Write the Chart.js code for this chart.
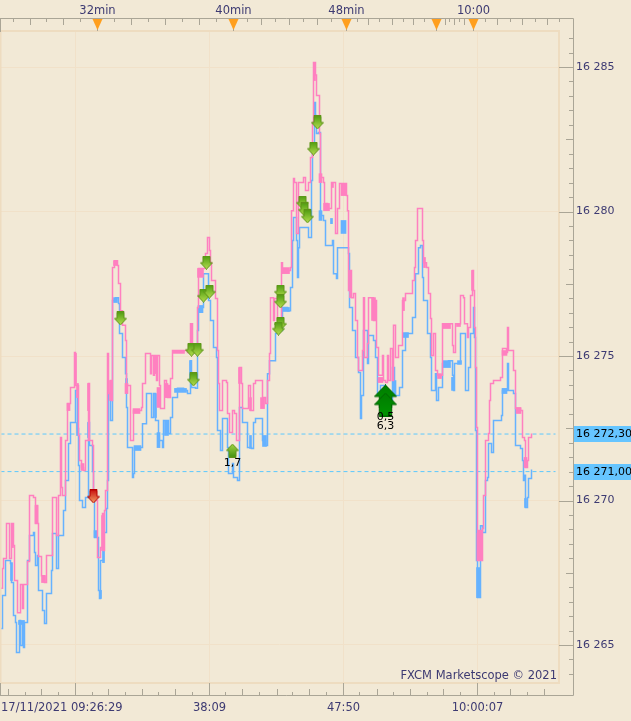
<!DOCTYPE html>
<html>
<head>
<meta charset="utf-8">
<title>FXCM Marketscope</title>
<script src="https://cdn.jsdelivr.net/npm/chart.js@4"></script>
<style>
    html, body { margin: 0; padding: 0; background: #f2e9d6; overflow: hidden; }
    canvas { display: block; }
</style>
</head>
<body>
<canvas id="chart" width="631" height="721"></canvas>
<script>
/* ------------------------------------------------------------
   DATA (x = bar position, y = price)
------------------------------------------------------------ */
const askBars = [0,2,3,6,9,11,13,14,17,20,22,23,27,29,33,35,36,37,38,41,44,46,52,56,58,60,61,62,65,67,70,74,75,78,79,81,83,85,88,89,92,93,97,100,102,103,104,105,107,108,110,111,112,114,117,118,120,122,125,126,130,133,141,142,145,150,151,153,154,156,157,159,160,164,166,167,168,169,170,172,187,190,192,197,198,205,207,209,210,211,215,217,218,219,222,226,227,229,232,234,236,239,241,242,248,250,253,255,262,263,265,267,269,270,273,274,277,281,282,290,291,293,294,296,298,303,305,308,310,312,313,315,316,319,320,323,324,327,331,333,335,337,339,346,347,348,350,351,353,355,357,358,362,363,364,367,368,373,375,376,378,382,383,385,387,388,390,392,393,395,398,402,405,412,414,415,417,422,423,426,428,430,431,433,435,437,442,452,453,455,460,463,464,467,468,470,472,473,474,475,476,477,478,479,480,481,482,483,485,488,489,490,493,500,502,506,507,508,513,515,520,522,524,525,527,528,531];
const askPrices = [16266.96,16267.65,16267.99,16269.20,16267.99,16269.20,16268.44,16267.23,16266.12,16267.09,16266.26,16267.09,16267.89,16270.17,16270.10,16269.20,16269.83,16269.20,16268.06,16267.40,16267.16,16268.10,16270.10,16268.79,16270.17,16272.18,16270.45,16270.17,16272.08,16273.36,16273.91,16275.12,16273.98,16272.25,16271.38,16271.14,16271.04,16272.08,16274.05,16272.08,16271.90,16270.00,16268.03,16268.37,16269.55,16268.27,16269.65,16270.35,16275.09,16273.70,16274.15,16273.46,16278.06,16278.30,16278.13,16277.51,16276.57,16276.06,16275.54,16273.98,16272.08,16273.11,16273.22,16274.05,16275.09,16274.39,16275.02,16274.33,16275.02,16274.15,16275.02,16273.98,16273.18,16274.15,16273.98,16273.56,16273.98,16273.56,16274.22,16275.19,16275.12,16276.12,16275.19,16276.68,16278.03,16278.55,16279.10,16278.65,16278.23,16277.61,16276.99,16275.19,16274.05,16273.11,16274.15,16274.08,16273.01,16272.35,16273.11,16273.01,16272.08,16274.60,16274.05,16273.18,16273.98,16273.11,16274.05,16274.15,16273.22,16273.56,16273.36,16274.15,16275.09,16277.02,16276.23,16276.99,16276.23,16278.23,16277.96,16278.06,16280.03,16281.14,16281.00,16279.24,16281.00,16281.18,16280.73,16281.00,16281.87,16283.08,16285.16,16284.72,16284.01,16282.70,16281.18,16281.00,16280.28,16280.10,16281.00,16281.00,16279.24,16280.10,16280.97,16280.55,16280.03,16277.27,16277.96,16277.02,16277.16,16276.23,16274.95,16274.50,16275.19,16277.02,16274.95,16275.43,16277.02,16276.23,16276.92,16275.29,16274.33,16275.02,16274.15,16274.08,16275.02,16274.15,16275.26,16274.15,16276.06,16274.95,16275.36,16276.92,16277.16,16277.61,16278.06,16279.00,16280.10,16279.00,16278.23,16278.06,16277.16,16276.30,16275.02,16275.78,16274.50,16274.33,16276.12,16275.36,16275.12,16276.12,16277.09,16277.02,16276.12,16275.64,16275.99,16277.09,16277.96,16277.27,16275.99,16274.60,16272.53,16267.92,16268.96,16267.92,16268.96,16267.92,16269.03,16270.17,16272.08,16272.32,16273.46,16274.05,16274.15,16274.26,16275.26,16275.12,16275.99,16275.19,16274.50,16273.18,16273.11,16272.18,16272.08,16271.14,16271.38,16272.18,16272.32];

const bidBars = [0,2,5,10,11,13,15,16,19,20,22,23,24,27,29,33,34,35,37,38,42,44,46,51,52,56,58,63,65,68,70,75,77,78,79,82,85,88,89,92,93,94,98,99,100,103,106,107,108,110,112,115,118,119,122,125,126,127,132,133,134,142,146,151,153,155,158,162,163,168,170,172,177,183,187,190,191,195,197,198,203,208,210,213,216,217,220,222,227,228,232,233,237,239,242,247,251,253,255,262,265,267,269,275,278,282,287,290,292,293,296,297,298,299,308,311,312,314,315,316,318,320,323,325,332,333,336,337,348,349,352,355,358,360,361,363,367,368,373,375,377,380,385,392,394,399,402,405,412,415,418,420,422,423,427,430,431,435,436,438,442,448,452,453,454,460,465,468,470,473,474,475,476,477,480,482,485,487,488,491,493,501,502,507,508,513,515,520,522,523,524,525,527,528,531];
const bidPrices = [16265.57,16266.71,16267.92,16267.82,16267.16,16266.02,16265.78,16264.74,16265.85,16264.98,16265.78,16264.91,16265.78,16267.92,16268.79,16268.89,16268.20,16267.75,16268.10,16266.89,16266.19,16265.74,16266.78,16267.58,16268.86,16267.65,16268.79,16269.65,16270.69,16271.97,16272.70,16273.81,16272.49,16271.21,16270.00,16269.76,16270.10,16272.70,16271.90,16271.00,16270.00,16268.72,16266.89,16266.61,16267.92,16268.89,16269.72,16270.69,16273.70,16272.77,16276.92,16277.02,16276.82,16275.78,16274.95,16274.39,16273.22,16271.83,16270.80,16270.93,16271.83,16272.66,16273.70,16272.87,16273.70,16272.77,16272.08,16271.83,16272.77,16272.32,16272.87,16273.56,16273.88,16273.81,16273.70,16274.84,16273.91,16273.88,16275.88,16276.68,16277.85,16276.92,16276.23,16275.29,16274.95,16272.42,16271.73,16272.84,16271.83,16270.93,16271.28,16270.80,16270.69,16273.22,16272.70,16271.83,16271.80,16272.70,16272.84,16272.08,16271.90,16274.39,16274.84,16275.78,16275.88,16276.68,16276.57,16277.37,16279.00,16279.79,16279.00,16277.72,16278.75,16279.45,16279.10,16281.07,16282.21,16283.77,16283.32,16282.70,16282.73,16279.86,16279.69,16278.82,16279.00,16277.85,16277.68,16278.75,16278.55,16276.68,16275.88,16274.95,16274.43,16272.84,16273.63,16275.88,16274.74,16275.71,16275.54,16274.95,16273.70,16273.98,16273.46,16274.60,16273.63,16273.91,16275.19,16275.78,16276.33,16277.85,16278.75,16278.82,16277.72,16276.92,16275.78,16274.95,16273.81,16274.39,16273.46,16273.91,16274.74,16274.84,16274.33,16273.81,16274.74,16275.78,16273.81,16274.60,16275.78,16276.68,16275.64,16272.42,16267.92,16266.64,16269.13,16268.89,16270.69,16270.80,16271.97,16271.66,16272.77,16272.94,16273.81,16274.74,16273.81,16273.70,16271.90,16271.80,16271.38,16270.69,16270.87,16269.76,16270.10,16270.76,16271.07];

// spots where the price flickers fast enough to look like a solid block
const askBandBars = [12,36,43,68,75,77,82,88,102,110,115,126,136,155,158,166,178,191,200,239,250,262,285,314,320,326,332,343,350,373,380,403,424,439,446,458,472,479,504,518,525];
const askBandSizes = [2,3,4,3,2,2,3,2,2,2,4,3,7,3,3,3,12,2,6,2,2,4,8,2,3,6,2,5,2,4,5,2,2,4,8,4,2,5,5,5,3];
const askBandLow = [16268.37,16269.20,16267.16,16273.11,16274.05,16273.56,16271.04,16273.11,16268.27,16273.46,16278.13,16273.70,16273.01,16274.39,16273.22,16273.56,16275.09,16275.43,16277.72,16274.05,16273.11,16273.18,16277.85,16284.53,16281.00,16280.03,16280.83,16280.55,16277.02,16276.23,16274.08,16276.57,16278.06,16274.22,16275.95,16276.02,16277.27,16267.92,16275.02,16273.01,16271.14];
const askBandHigh = [16269.20,16269.83,16267.40,16273.36,16275.09,16274.05,16271.28,16274.05,16269.48,16274.15,16278.30,16274.05,16273.18,16275.02,16273.91,16274.05,16275.19,16276.12,16278.03,16274.60,16273.56,16273.56,16278.06,16285.16,16281.31,16280.28,16281.00,16280.97,16277.96,16277.02,16274.26,16277.02,16278.41,16274.39,16276.12,16276.12,16277.96,16268.86,16275.19,16273.22,16271.49];

const bidBandBars = [11,21,77,88,95,100,103,115,126,137,155,158,166,180,190,200,250,264,285,314,320,331,343,394,405,446,452,459,478,504,525];
const bidBandSizes = [2,6,2,2,3,2,2,4,2,7,2,3,4,12,2,5,2,4,8,2,3,2,5,3,6,8,2,4,4,5,2];
const bidBandLow = [16267.23,16265.71,16272.25,16272.18,16268.72,16266.61,16267.85,16276.85,16273.70,16271.73,16272.87,16271.83,16272.25,16273.74,16274.15,16276.50,16271.80,16271.87,16276.54,16283.32,16279.69,16279.58,16279.24,16273.63,16275.64,16274.60,16273.81,16274.71,16266.64,16273.70,16269.76];
const bidBandHigh = [16267.85,16265.85,16272.70,16272.70,16268.96,16266.89,16268.27,16277.02,16274.22,16271.90,16273.70,16272.35,16272.77,16273.88,16274.84,16276.75,16272.25,16272.25,16276.68,16283.77,16280.03,16279.76,16279.69,16274.15,16275.81,16274.84,16274.26,16274.84,16267.68,16273.88,16270.07];

// order levels shown as dashed lines and boxes on the right
const levelPrices = [16272.30, 16271.00];
const levelLabels = ["16 272,30", "16 271,00"];
const levelEnd = 555;

// trade signals
const sellBars = [120,191,197,193,206,203,209,280,280,280,278,317,313,302,304,307];
const sellPrices = [16276.30,16275.22,16275.22,16274.19,16278.23,16277.09,16277.23,16277.23,16276.89,16276.12,16275.95,16283.08,16282.18,16280.31,16280.07,16279.83];
const redBars = [93];
const redPrices = [16270.14];
const smallUpBars = [232];
const smallUpPrices = [16271.73];
const bigUpBars = [385,385];
const bigUpPrices = [16273.60,16273.32];
const signalBars = [232,385,385];
const signalPrices = [16271.28,16272.87,16272.56];
const signalTexts = ["1,7","0,5","6,3"];

// axes
const priceLabels = [16265,16270,16275,16280,16285];
const bottomMajor = [75,209,343,477];
const bottomLabels = ["17/11/2021 09:26:29","38:09","47:50","10:00:07"];
const bottomMedium = [8,41,108,142,175,242,277,309,377,410,443,510,544];
const bottomMinor = [25,58,92,125,158,192,225,259,292,326,359,393,427,460,494,527];
const topMajor = [97,233,346,473];
const topLabels = ["32min","40min","48min","10:00"];
const topMarkers = [97,233,346,436,473];
const topMedium = [30,63,131,165,199,261,289,317,368,392,413,445,454,464,497,522,547];
const topMinor = [13,46,80,114,148,182,216,247,275,303,331,357,379,403,424,449,459,485,510,535,559];

const GRID = "#f1e1c9";
const FRAME = "#eedcc0";
const TICK = "#aaa596";
const TEXT = "#3d3a72";
const PINK = "#ff80c0";
const BLUE = "#66b2ff";
const FONT = "11px 'DejaVu Sans'";
const WIDE_FONT = "11.5px 'DejaVu Sans'";

/* ------------------------------------------------------------
   ARROW SPRITES
------------------------------------------------------------ */
function makeArrow(w, h, top, bottom, line, up) {
    const c = document.createElement("canvas");
    c.width = w;
    c.height = h;
    const g = c.getContext("2d");
    if (up) {
        g.translate(0, h);
        g.scale(1, -1);
    }
    const shaft = w * 0.27;
    const neck = Math.round(h * 0.52);
    const mid = w / 2;
    g.beginPath();
    g.moveTo(mid - shaft, 0.5);
    g.lineTo(mid + shaft, 0.5);
    g.lineTo(mid + shaft, neck);
    g.lineTo(w - 0.5, neck);
    g.lineTo(mid, h - 0.5);
    g.lineTo(0.5, neck);
    g.lineTo(mid - shaft, neck);
    g.closePath();
    const grad = g.createLinearGradient(0, 0, 0, h);
    grad.addColorStop(0, top);
    grad.addColorStop(1, bottom);
    g.fillStyle = grad;
    g.fill();
    g.strokeStyle = line;
    g.lineWidth = 1;
    g.stroke();
    return c;
}

const sellSprite = makeArrow(13, 14, "#4c9a10", "#b8e050", "#5f9418", false);
const redSprite = makeArrow(13, 14, "#c80c0c", "#f4a868", "#b40000", false);
const smallUpSprite = makeArrow(13, 14, "#3f900e", "#a8d848", "#5f9418", true);
const bigUpSprite = makeArrow(23, 24, "#009400", "#007c00", "#006400", true);

function pairs(xs, ys) {
    return xs.map((x, i) => ({ x: x, y: ys[i] }));
}

function signalSet(xs, ys, sprite, radius) {
    return {
        data: pairs(xs, ys),
        showLine: false,
        pointStyle: sprite,
        pointRadius: radius,
        clip: false,
        order: 1
    };
}

// one floating bar dataset per block width
function bandSets(bars, sizes, low, high, color, order) {
    return [...new Set(sizes)].map(size => {
        const data = [];
        bars.forEach((x, i) => {
            if (sizes[i] === size) data.push({ x: x, y: [low[i], high[i]] });
        });
        return {
            type: "bar",
            data: data,
            backgroundColor: color,
            barThickness: size,
            grouped: false,
            order: order
        };
    });
}

/* ------------------------------------------------------------
   PLUGIN: ruler ticks, frame, markers, boxes and small texts
------------------------------------------------------------ */
function vTick(ctx, x, y1, y2) {
    const px = Math.floor(x) + 0.5;
    ctx.beginPath();
    ctx.moveTo(px, y1);
    ctx.lineTo(px, y2);
    ctx.stroke();
}

const rulerPlugin = {
    id: "ruler",
    afterDatasetsDraw(chart) {
        const ctx = chart.ctx;
        const xs = chart.scales.x;
        const ys = chart.scales.y;
        ctx.save();
        ctx.font = FONT;
        ctx.fillStyle = "#000000";
        ctx.textAlign = "center";
        ctx.textBaseline = "middle";
        signalTexts.forEach((t, i) => {
            ctx.fillText(t, xs.getPixelForValue(signalBars[i]), ys.getPixelForValue(signalPrices[i]));
        });
        ctx.restore();
    },
    afterDraw(chart) {
        const ctx = chart.ctx;
        const xs = chart.scales.x;
        const xt = chart.scales.xTop;
        const ys = chart.scales.y;
        const area = chart.chartArea;
        const TOP = 18, BOTTOM = 695, RIGHT = 573;

        ctx.save();

        // plot frame
        ctx.strokeStyle = FRAME;
        ctx.lineWidth = 2;
        ctx.strokeRect(area.left + 0.5, area.top, area.right - area.left - 0.5, area.bottom - area.top);

        // rulers
        ctx.strokeStyle = TICK;
        ctx.lineWidth = 1;
        ctx.beginPath();
        ctx.moveTo(0, TOP + 0.5);
        ctx.lineTo(RIGHT + 0.5, TOP + 0.5);
        ctx.lineTo(RIGHT + 0.5, BOTTOM + 0.5);
        ctx.lineTo(0, BOTTOM + 0.5);
        ctx.stroke();

        vTick(ctx, 0, TOP, 32);
        topMajor.concat([436]).forEach(v => vTick(ctx, xt.getPixelForValue(v), TOP, 31));
        topMedium.forEach(v => vTick(ctx, xt.getPixelForValue(v), TOP, 25));
        topMinor.forEach(v => vTick(ctx, xt.getPixelForValue(v), TOP, 22));

        bottomMajor.forEach(v => vTick(ctx, xs.getPixelForValue(v), 683, BOTTOM));
        bottomMedium.forEach(v => vTick(ctx, xs.getPixelForValue(v), 689, BOTTOM));
        bottomMinor.forEach(v => vTick(ctx, xs.getPixelForValue(v), 692, BOTTOM));
        vTick(ctx, 0, 683, BOTTOM);

        // price ticks
        ys.ticks.forEach(t => {
            const half = Math.round(t.value * 2);
            let from = 569;
            if (half % 10 === 0) from = 559;
            else if (half % 5 === 0) from = 566;
            const py = Math.round(ys.getPixelForValue(t.value)) + 0.5;
            ctx.beginPath();
            ctx.moveTo(from, py);
            ctx.lineTo(RIGHT, py);
            ctx.stroke();
        });

        // orange markers on the top ruler
        ctx.fillStyle = "#ff9f1e";
        topMarkers.forEach(v => {
            const px = Math.floor(xt.getPixelForValue(v)) + 0.5;
            ctx.beginPath();
            ctx.moveTo(px - 5, 19);
            ctx.lineTo(px + 5, 19);
            ctx.lineTo(px, 30);
            ctx.closePath();
            ctx.fill();
        });

        // level boxes
        ctx.font = FONT;
        ctx.textBaseline = "middle";
        ctx.textAlign = "left";
        levelPrices.forEach((p, i) => {
            const py = Math.round(ys.getPixelForValue(p));
            ctx.fillStyle = "#66c5ff";
            ctx.fillRect(574, py - 8, 57, 16);
            ctx.fillStyle = "#000000";
            ctx.fillText(levelLabels[i], 576, py + 0.5);
        });

        // bottom labels
        ctx.font = WIDE_FONT;
        ctx.fillStyle = TEXT;
        bottomLabels.forEach((t, i) => {
            const px = xs.getPixelForValue(bottomMajor[i]);
            if (i === 0) {
                ctx.textAlign = "left";
                ctx.fillText(t, 1, 708);
            } else {
                ctx.textAlign = "center";
                ctx.fillText(t, px, 708);
            }
        });

        // watermark
        ctx.textAlign = "right";
        ctx.fillText("FXCM Marketscope \u00a9 2021", 557, 676);

        ctx.restore();
    }
};

/* ------------------------------------------------------------
   BUILD THE CHART
------------------------------------------------------------ */
function setTicks(list) {
    return function (axis) {
        axis.ticks = list.map(v => ({ value: v }));
    };
}

const priceTicks = [];
for (let p = 16264; p <= 16286; p += 0.5) priceTicks.push(p);

const ctx = document.getElementById("chart").getContext("2d");

new Chart(ctx, {
    type: "line",
    data: {
        datasets: [
            {
                data: [{ x: 0, y: levelPrices[0] }, { x: levelEnd, y: levelPrices[0] }],
                borderColor: "#5cc8ff",
                borderWidth: 1,
                borderDash: [4, 3],
                pointRadius: 0,
                order: 4
            },
            {
                data: [{ x: 0, y: levelPrices[1] }, { x: levelEnd, y: levelPrices[1] }],
                borderColor: "#5cc8ff",
                borderWidth: 1,
                borderDash: [4, 3],
                pointRadius: 0,
                order: 4
            },
            {
                label: "Bid",
                data: pairs(bidBars, bidPrices),
                borderColor: BLUE,
                borderWidth: 1.5,
                stepped: true,
                pointRadius: 0,
                order: 3
            },
            ...bandSets(bidBandBars, bidBandSizes, bidBandLow, bidBandHigh, BLUE, 3),
            {
                label: "Ask",
                data: pairs(askBars, askPrices),
                borderColor: PINK,
                borderWidth: 1.5,
                stepped: true,
                pointRadius: 0,
                order: 2
            },
            ...bandSets(askBandBars, askBandSizes, askBandLow, askBandHigh, PINK, 2),
            signalSet(sellBars, sellPrices, sellSprite, 7),
            signalSet(redBars, redPrices, redSprite, 7),
            signalSet(smallUpBars, smallUpPrices, smallUpSprite, 7),
            signalSet(bigUpBars, bigUpPrices, bigUpSprite, 12)
        ]
    },
    options: {
        responsive: false,
        animation: false,
        events: [],
        layout: { padding: 0, autoPadding: false },
        plugins: {
            legend: { display: false },
            tooltip: { enabled: false }
        },
        scales: {
            x: {
                type: "linear",
                position: "bottom",
                offset: false,
                min: -0.5,
                max: 558.5,
                afterFit: axis => { axis.height = 38; },
                afterBuildTicks: setTicks(bottomMajor),
                border: { display: false },
                grid: { color: GRID, drawTicks: false, offset: false },
                ticks: { display: false }
            },
            xTop: {
                type: "linear",
                position: "top",
                min: -0.5,
                max: 558.5,
                afterFit: axis => { axis.height = 31; },
                afterBuildTicks: setTicks(topMajor),
                border: { display: false },
                grid: { drawOnChartArea: false, drawTicks: false },
                ticks: {
                    color: TEXT,
                    font: { family: "'DejaVu Sans'", size: 11.5 },
                    padding: 13,
                    maxRotation: 0,
                    autoSkip: false,
                    callback: value => topLabels[topMajor.indexOf(value)]
                }
            },
            y: {
                type: "linear",
                position: "right",
                min: 16263.685,
                max: 16286.246,
                afterFit: axis => { axis.width = 72; },
                afterBuildTicks: setTicks(priceTicks),
                border: { display: false },
                grid: {
                    drawTicks: false,
                    color: c => priceLabels.includes(c.tick.value) ? GRID : "rgba(0,0,0,0)"
                },
                ticks: {
                    color: TEXT,
                    font: { family: "'DejaVu Sans'", size: 11 },
                    padding: 17,
                    autoSkip: false,
                    callback: value => priceLabels.includes(value) ? "16 " + (value - 16000) : ""
                }
            }
        }
    },
    plugins: [rulerPlugin]
});
</script>
</body>
</html>
